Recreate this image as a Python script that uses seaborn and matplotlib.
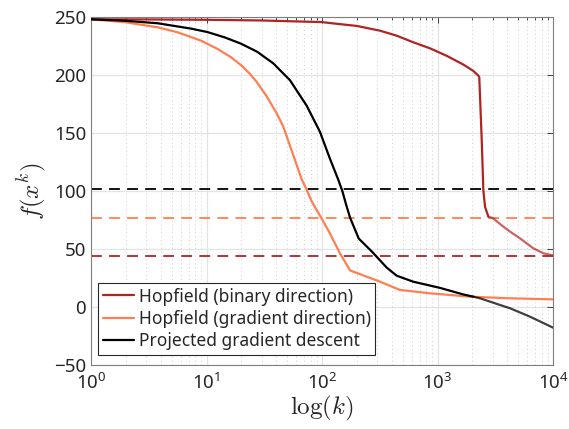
import numpy as np
import pandas as pd
import matplotlib
matplotlib.use("Agg")
import matplotlib.pyplot as plt
import seaborn as sns

# ---- data ----
binary_k = [1, 3, 10, 30, 100, 117, 200, 318, 443, 617, 861, 1203, 1674, 2042, 2256, 2300,
            2415, 2494, 2578, 2754]
binary_f = [248, 247.9, 247.6, 247, 245.6, 244.8, 242.3, 238.2, 233.9, 228.2, 223, 216.5, 209, 203.5,
            199.5, 198, 144, 101, 86.5, 78]
binary_tail_k = [2754, 3030, 3715, 4246, 5176, 6760, 8244, 10000]
binary_tail_f = [78, 76.5, 69.3, 65, 59.2, 50.6, 46.3, 44.5]

grad_k = [1, 1.95, 3.78, 5.63, 8.96, 12.5, 16.3, 19.9, 23.5, 27.2, 33, 40.5, 46, 56.4, 66.7,
          73.8, 81.5, 99, 117, 143, 175, 318, 473, 861, 1910, 4246, 10000]
grad_f = [248, 245.6, 241.1, 236.8, 229.6, 222.4, 215.3, 208.5, 201.5, 194, 182, 167, 156, 131, 110,
          101, 91, 76.5, 63.5, 46.3, 31.5, 21.8, 14.7, 11.8, 8.9, 7.5, 6.6]

pgd_k = [1, 1.95, 3.78, 7.34, 10.2, 14.3, 19.9, 27.5, 37.9, 52.8, 73.7, 96, 117, 138, 150,
         162, 175, 208, 272, 363, 443, 617, 1050, 1674, 2040]
pgd_f = [248, 246.8, 244.6, 240, 237, 232.5, 227, 220, 210, 195.5, 173.5, 151, 128, 110, 100,
         88, 77, 59, 47.5, 34, 27, 21.8, 16.5, 10.8, 8.9]
pgd_tail_k = [2040, 2334, 4246, 6310, 10000]
pgd_tail_f = [8.9, 7.5, -1.1, -8.3, -17.8]

ref_levels = [101.5, 76.5, 44.2]

labels = ["Hopfield (binary direction)", "Hopfield (gradient direction)", "Projected gradient descent"]
c_red = "#B22222"
c_orange = "#FF7F50"
c_black = "#000000"

xticks = [1, 10, 100, 1000, 10000]
xticklabels = [r"$10^{0}$", r"$10^{1}$", r"$10^{2}$", r"$10^{3}$", r"$10^{4}$"]
yticks = [-50, 0, 50, 100, 150, 200, 250]

# ---- plot ----
sns.set_theme(style="white")
plt.rcParams["font.family"] = ["Noto Sans", "DejaVu Sans"]
plt.rcParams["mathtext.fontset"] = "custom"
plt.rcParams["mathtext.rm"] = "Noto Sans"
plt.rcParams["mathtext.it"] = "Noto Sans:italic"
plt.rcParams["mathtext.bf"] = "Noto Sans:bold"

fig = plt.figure(figsize=(5.69, 4.29), dpi=100)
ax = fig.add_axes([91 / 569, 64 / 429, 462 / 569, 348 / 429])

df_b = pd.DataFrame({"k": binary_k, "f": binary_f})
df_bt = pd.DataFrame({"k": binary_tail_k, "f": binary_tail_f})
df_g = pd.DataFrame({"k": grad_k, "f": grad_f})
df_p = pd.DataFrame({"k": pgd_k, "f": pgd_f})
df_pt = pd.DataFrame({"k": pgd_tail_k, "f": pgd_tail_f})

lw = 1.6
for lvl, c in zip(ref_levels, [c_black, c_orange, c_red]):
    ax.axhline(lvl, color=c, lw=1.3, ls=(0, (6, 4)), zorder=2)

sns.lineplot(data=df_g, x="k", y="f", ax=ax, color=c_orange, lw=lw, label=labels[1], zorder=3)
sns.lineplot(data=df_bt, x="k", y="f", ax=ax, color=c_red, lw=lw, alpha=0.7, zorder=3)
sns.lineplot(data=df_b, x="k", y="f", ax=ax, color=c_red, lw=lw, label=labels[0], zorder=4)
sns.lineplot(data=df_pt, x="k", y="f", ax=ax, color=c_black, lw=lw, alpha=0.75, zorder=3)
sns.lineplot(data=df_p, x="k", y="f", ax=ax, color=c_black, lw=lw, label=labels[2], zorder=4)

ax.set_xscale("log")
ax.set_xlim(1, 10000)
ax.set_ylim(-50, 250)
ax.set_xticks(xticks)
ax.set_xticklabels(xticklabels)
ax.set_yticks(yticks)
ax.set_yticklabels(["\u221250" if v < 0 else str(v) for v in yticks])

ax.grid(True, which="major", color="#e3e3e3", lw=0.9)
ax.xaxis.grid(True, which="minor", color="#cfcfcf", lw=0.7, ls=(0, (1, 3)))

ax.tick_params(axis="both", which="both", direction="in", top=True, right=True,
               labelsize=13.5, colors="#262626", length=4, width=0.6)
ax.tick_params(axis="x", which="minor", length=2.5)
ax.tick_params(axis="x", which="major", pad=6)
for sp in ax.spines.values():
    sp.set_color("#7f7f7f")
    sp.set_linewidth(0.8)

ax.set_xlabel(r"$\log(k)$", fontsize=18, color="#262626", labelpad=0, math_fontfamily="cm")
ax.set_ylabel(r"$f(x^k)$", fontsize=18, color="#262626", labelpad=4, math_fontfamily="cm")

handles, labs = ax.get_legend_handles_labels()
order = [labs.index(l) for l in labels]
leg = ax.legend([handles[i] for i in order], [labs[i] for i in order],
                loc="lower left", bbox_to_anchor=(0.008, 0.02), fontsize=12.5,
                frameon=True, fancybox=False, framealpha=1, edgecolor="#262626",
                handlelength=1.8, handletextpad=0.3, borderpad=0.25, labelspacing=0.25,
                borderaxespad=0.2)
leg.get_frame().set_linewidth(0.8)

fig.savefig("out.png", dpi=100)
